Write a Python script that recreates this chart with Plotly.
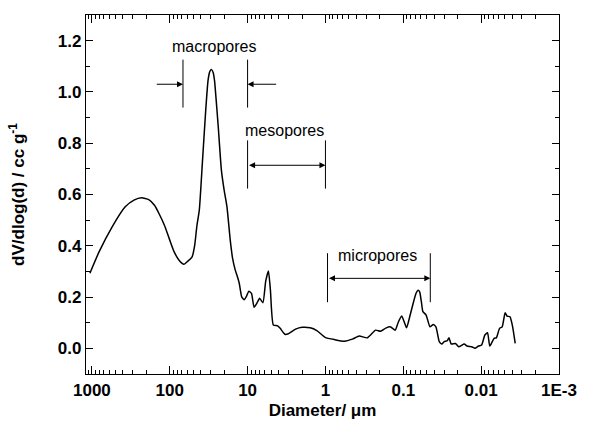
import numpy as np
import plotly.graph_objects as go

# Pore diameter (µm) and dV/dlog(d) (cc/g)
diameter = [1060, 809, 549, 373, 288, 230, 186, 157, 136, 117, 101, 87.7, 75.9, 65.8, 58.5,
            51.6, 47.8, 44.7, 41.7, 37.9, 34.5, 32.2, 30.5, 29.0, 27.7, 26.6, 25.3, 23.8,
            21.7, 20.0, 18.4, 16.7, 15.6, 14.4, 13.6, 12.8, 11.9, 11.1, 10.3, 9.64, 8.91,
            8.25, 7.60, 7.00, 6.35, 5.85, 5.40, 5.09, 4.67, 4.11, 3.81, 3.32, 3.05, 2.42,
            1.99, 1.57, 1.29, 1.01, 0.760, 0.569, 0.451, 0.368, 0.290, 0.227, 0.196, 0.168,
            0.147, 0.127, 0.116, 0.105, 0.0970, 0.0908, 0.0816, 0.0748, 0.0686, 0.0647,
            0.0616, 0.0585, 0.0560, 0.0509, 0.0454, 0.0413, 0.0381, 0.0345, 0.0320, 0.0299,
            0.0272, 0.0259, 0.0242, 0.0214, 0.0194, 0.0165, 0.0152, 0.0132, 0.0120, 0.0108,
            0.00986, 0.00896, 0.00828, 0.00774, 0.00682, 0.00638, 0.00580, 0.00537, 0.00492,
            0.00465, 0.00426, 0.00394, 0.00365]
dv_dlogd = [0.293, 0.376, 0.474, 0.552, 0.578, 0.587, 0.580, 0.558, 0.523, 0.480, 0.426, 0.376,
            0.344, 0.328, 0.340, 0.357, 0.402, 0.480, 0.539, 0.734, 0.928, 1.045, 1.080, 1.087,
            1.076, 1.045, 0.967, 0.863, 0.695, 0.617, 0.552, 0.422, 0.352, 0.305, 0.282, 0.254,
            0.201, 0.190, 0.204, 0.223, 0.214, 0.160, 0.176, 0.195, 0.178, 0.262, 0.302, 0.227,
            0.091, 0.088, 0.078, 0.055, 0.056, 0.075, 0.082, 0.080, 0.069, 0.043, 0.034, 0.028,
            0.036, 0.048, 0.041, 0.071, 0.067, 0.079, 0.084, 0.071, 0.102, 0.126, 0.102, 0.080,
            0.130, 0.175, 0.215, 0.227, 0.220, 0.180, 0.143, 0.130, 0.084, 0.093, 0.084, 0.026,
            0.017, 0.026, 0.030, 0.041, 0.017, 0.019, 0.006, 0.017, 0.009, 0.006, 0.000, 0.009,
            0.013, 0.052, 0.061, 0.009, 0.039, 0.041, 0.078, 0.084, 0.139, 0.126, 0.123, 0.084,
            0.019]

x_tick_vals = [1000, 100, 10, 1, 0.1, 0.01, 0.001]
x_tick_text = ["1000", "100", "10", "1", "0.1", "0.01", "1E-3"]
y_tick_vals = [0.0, 0.2, 0.4, 0.6, 0.8, 1.0, 1.2]

# minor tick positions (axis furniture)
x_minor = [m * 10.0 ** e for e in range(-3, 3) for m in range(2, 10)] + [1100]
y_minor = [round(-0.1 + 0.2 * i, 1) for i in range(8)]

FONT = "Liberation Sans, Arial, sans-serif"
lg = np.log10

fig = go.Figure()
fig.add_trace(go.Scatter(x=diameter, y=dv_dlogd, mode="lines",
                         line=dict(color="black", width=1.5, shape="spline", smoothing=0.5),
                         showlegend=False))

axis_common = dict(showline=True, linecolor="black", linewidth=1.3, mirror="allticks",
                   ticks="inside", tickcolor="black", tickwidth=1.3, showgrid=False,
                   zeroline=False)

fig.update_xaxes(type="log", range=[3.0755, -3], tickmode="array", tickvals=x_tick_vals,
                 ticktext=x_tick_text, ticklen=8,
                 minor=dict(ticks="inside", ticklen=4, tickcolor="black", tickwidth=1.2,
                            tickmode="array", tickvals=x_minor, showgrid=False),
                 tickfont=dict(family=FONT, size=17, color="black", weight="bold"),
                 title=dict(text="Diameter/ μm", standoff=5,
                            font=dict(family=FONT, size=17, color="black", weight="bold")),
                 **axis_common)
fig.update_yaxes(range=[-0.1, 1.3], tickmode="array", tickvals=y_tick_vals, tickformat=".1f",
                 ticklen=7,
                 minor=dict(ticks="inside", ticklen=4, tickcolor="black", tickwidth=1.2,
                            tickmode="array", tickvals=y_minor, showgrid=False),
                 tickfont=dict(family=FONT, size=17, color="black", weight="bold"),
                 title=dict(text="dV/dlog(d) / cc g<sup>-1</sup>", standoff=28,
                            font=dict(family=FONT, size=17, color="black", weight="bold")),
                 **axis_common)

# bracket lines (shapes take raw data values on log axes)
def vline(xv, y0, y1):
    fig.add_shape(type="line", xref="x", yref="y", x0=xv, x1=xv, y0=y0, y1=y1,
                  line=dict(color="black", width=1))

def arrow(x_from, x_to, yv, both=False):
    fig.add_annotation(x=lg(x_to), y=yv, ax=lg(x_from), ay=yv, xref="x", yref="y",
                       axref="x", ayref="y", text="", showarrow=True, arrowhead=2,
                       arrowsize=1.2, arrowwidth=1, arrowcolor="black",
                       arrowside="end+start" if both else "end")

def label(xv, yv, txt):
    fig.add_annotation(x=lg(xv), y=yv, xref="x", yref="y", text=txt, showarrow=False,
                       font=dict(family=FONT, size=16, color="black"))

# macropores
vline(67.6, 0.939, 1.126)
vline(10, 0.939, 1.126)
arrow(153.5, 67.6, 1.03)
arrow(4.11, 10, 1.03)
label(27.0, 1.178, "macropores")
# mesopores
vline(10, 0.623, 0.811)
vline(1, 0.623, 0.811)
arrow(10, 1, 0.714, both=True)
label(3.33, 0.85, "mesopores")
# micropores
vline(0.94, 0.18, 0.371)
vline(0.045, 0.18, 0.371)
arrow(0.94, 0.045, 0.273, both=True)
label(0.212, 0.363, "micropores")

fig.update_layout(width=589, height=431, margin=dict(l=86, r=20, t=15, b=57),
                  paper_bgcolor="white", plot_bgcolor="white",
                  font=dict(family=FONT, color="black"))
fig.write_html("out.html")
